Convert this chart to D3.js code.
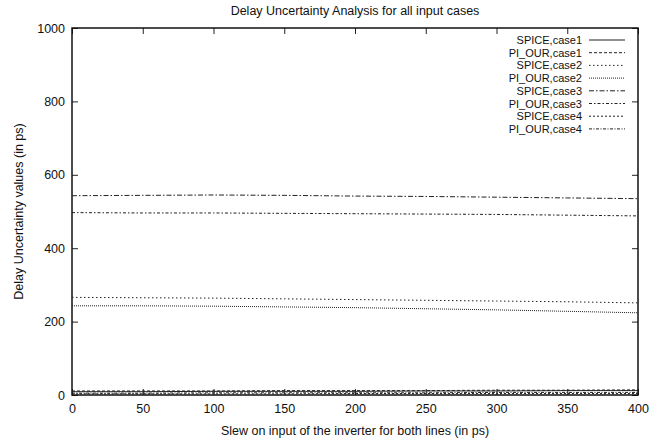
<!DOCTYPE html>
<html lang="en">
<head>
    <meta charset="UTF-8">
    <title>Delay Uncertainty</title>
    <script src="https://d3js.org/d3.v7.min.js"></script>
    <style>
        body { margin: 0; background: #fff; }
        text { font-family: "Liberation Sans", Arial, sans-serif; }
    </style>
</head>
<body>
<div id="chart"></div>
<script>
    // ---- data ----
    var slew = [0, 50, 100, 150, 200, 250, 300, 350, 400];
    var spiceCase1 = [9, 9, 10, 10, 10, 11, 11, 12, 12];
    var ourCase1 = [11, 11, 11, 12, 12, 12, 13, 13, 14];
    var spiceCase2 = [266, 265, 264, 262, 260, 258, 256, 254, 251];
    var ourCase2 = [243, 243, 242, 240, 238, 235, 232, 228, 224];
    var spiceCase3 = [543, 544, 545, 544, 542, 541, 539, 537, 535];
    var ourCase3 = [497, 496, 496, 495, 494, 493, 492, 490, 488];
    var spiceCase4 = [3, 3, 3, 3, 4, 4, 4, 4, 4];
    var ourCase4 = [5, 5, 6, 6, 6, 6, 7, 7, 7];
    var seriesNames = ["SPICE,case1", "PI_OUR,case1", "SPICE,case2", "PI_OUR,case2",
        "SPICE,case3", "PI_OUR,case3", "SPICE,case4", "PI_OUR,case4"];
    var xTicks = [0, 50, 100, 150, 200, 250, 300, 350, 400];
    var yTicks = [0, 200, 400, 600, 800, 1000];

    var series = [spiceCase1, ourCase1, spiceCase2, ourCase2, spiceCase3, ourCase3, spiceCase4, ourCase4];
    // gnuplot-like dash patterns
    var dashes = ["none", "3,2", "1.5,2.5", "1,1", "5,2,1.5,2", "3,2,1.5,2", "2,2", "3,1.5,1,1.5"];

    var fontSize = "12.5px";
    var W = 668, H = 441;
    var margin = { top: 28, right: 30, bottom: 46, left: 72 };
    var width = W - margin.left - margin.right,
        height = H - margin.top - margin.bottom;

    var svg = d3.select("#chart")
        .append("svg")
        .attr("width", W)
        .attr("height", H);

    var g = svg.append("g")
        .attr("transform", "translate(" + margin.left + "," + margin.top + ")");

    var x = d3.scaleLinear().domain([0, 400]).range([0, width]);
    var y = d3.scaleLinear().domain([0, 1000]).range([height, 0]);

    // axes: ticks pointing inward, mirrored on top/right
    g.append("g")
        .attr("transform", "translate(0," + height + ")")
        .call(d3.axisBottom(x).tickValues(xTicks).tickSize(-6).tickPadding(9).tickFormat(d3.format("d")));
    g.append("g")
        .call(d3.axisTop(x).tickValues(xTicks).tickSize(-6).tickFormat(""));
    g.append("g")
        .call(d3.axisLeft(y).tickValues(yTicks).tickSize(-6).tickPadding(7).tickFormat(d3.format("d")));
    g.append("g")
        .attr("transform", "translate(" + width + ",0)")
        .call(d3.axisRight(y).tickValues(yTicks).tickSize(-6).tickFormat(""));

    g.selectAll(".domain").remove();
    g.selectAll(".tick line").attr("stroke", "#222").attr("stroke-width", 1);
    g.selectAll(".tick text")
        .attr("font-size", fontSize)
        .attr("fill", "#111")
        .style("font-family", "Liberation Sans, Arial, sans-serif");

    // frame
    g.append("rect")
        .attr("x", 0).attr("y", 0)
        .attr("width", width).attr("height", height)
        .attr("fill", "none")
        .attr("stroke", "#111")
        .attr("stroke-width", 1.5);

    var line = d3.line()
        .x(function (d, i) { return x(slew[i]); })
        .y(function (d) { return y(d); });

    g.selectAll(".series")
        .data(series)
        .enter()
        .append("path")
        .attr("class", "series")
        .attr("d", line)
        .attr("fill", "none")
        .attr("stroke", "#222")
        .attr("stroke-width", 1)
        .attr("stroke-dasharray", function (d, i) { return dashes[i]; });

    // legend (rows are tight, so a slightly smaller font keeps them apart)
    var legend = g.append("g")
        .attr("transform", "translate(" + (width - 56) + ",12)");
    var rowH = 12.7;
    seriesNames.forEach(function (name, i) {
        legend.append("text")
            .attr("x", 0)
            .attr("y", i * rowH + 4)
            .attr("text-anchor", "end")
            .attr("font-size", "11px")
            .attr("fill", "#111")
            .text(name);
        legend.append("line")
            .attr("x1", 7).attr("x2", 43)
            .attr("y1", i * rowH).attr("y2", i * rowH)
            .attr("stroke", "#222")
            .attr("stroke-width", 1)
            .attr("stroke-dasharray", dashes[i]);
    });

    // title and axis labels
    svg.append("text")
        .attr("x", margin.left + width / 2)
        .attr("y", 15)
        .attr("text-anchor", "middle")
        .attr("font-size", fontSize)
        .attr("fill", "#111")
        .text("Delay Uncertainty Analysis for all input cases");

    svg.append("text")
        .attr("x", margin.left + width / 2)
        .attr("y", 435)
        .attr("text-anchor", "middle")
        .attr("font-size", fontSize)
        .attr("fill", "#111")
        .text("Slew on input of the inverter for both lines (in ps)");

    svg.append("text")
        .attr("transform", "translate(23," + (margin.top + height / 2) + ") rotate(-90)")
        .attr("text-anchor", "middle")
        .attr("font-size", fontSize)
        .attr("fill", "#111")
        .text("Delay Uncertainty values (in ps)");
</script>
</body>
</html>
